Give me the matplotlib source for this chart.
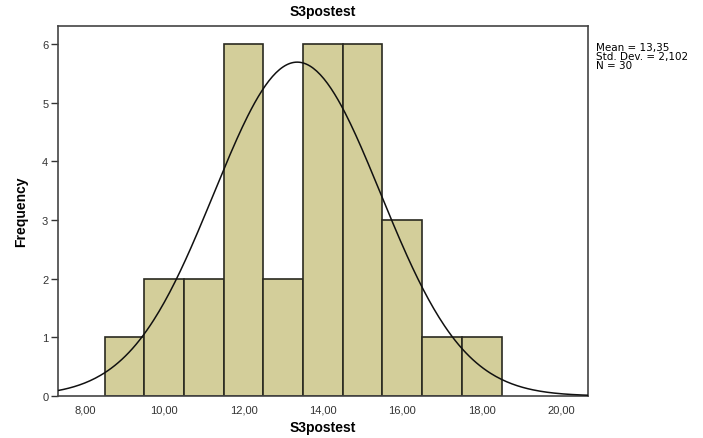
import matplotlib
matplotlib.use('Agg')
import matplotlib.pyplot as plt
import numpy as np

# histogram bins (width 1) and counts
bin_left = [8.5, 9.5, 10.5, 11.5, 12.5, 13.5, 14.5, 15.5, 16.5, 17.5]
counts = [1, 2, 2, 6, 2, 6, 6, 3, 1, 1]

mean, sd, n = 13.35, 2.102, 30
xticks = [8, 10, 12, 14, 16, 18, 20]
yticks = [0, 1, 2, 3, 4, 5, 6]

plt.rcParams['font.family'] = ['Liberation Sans', 'DejaVu Sans']

fig = plt.figure(figsize=(7.03, 4.39), dpi=100)
ax = fig.add_axes([0.0825, 0.0957, 0.7539, 0.8428])

ax.bar(bin_left, counts, width=1.0, align='edge', color='#d3ce9a',
       edgecolor='#2a2a20', linewidth=1.2, zorder=2)

# fitted normal curve scaled to counts (bin width 1)
xs = np.linspace(7.32, 20.68, 300)
ys = n / (sd * np.sqrt(2 * np.pi)) * np.exp(-0.5 * ((xs - mean) / sd) ** 2)
ax.plot(xs, ys, color='#111111', linewidth=1.1, zorder=3)

ax.set_xlim(7.32, 20.68)
ax.set_ylim(0, 6.31)
ax.set_xticks(xticks)
ax.set_xticklabels(['{:.2f}'.format(v).replace('.', ',') for v in xticks],
                   fontsize=8, color='#333333')
ax.set_yticks(yticks)
ax.set_yticklabels([str(v) for v in yticks], fontsize=8, color='#333333')
ax.tick_params(axis='x', length=0, pad=6)
ax.tick_params(axis='y', length=5, width=1, color='#333333', pad=2)

for s in ax.spines.values():
    s.set_color('#444444')
    s.set_linewidth(1.2)

ax.set_title('S3postest', fontsize=10, fontweight='bold', pad=8)
ax.set_xlabel('S3postest', fontsize=10, fontweight='bold', labelpad=4)
ax.set_ylabel('Frequency', fontsize=10, fontweight='bold', labelpad=10,
              fontstretch='condensed')

fig.text(0.848, 0.902, 'Mean = 13,35\nStd. Dev. = 2,102\nN = 30',
         fontsize=7.5, va='top', ha='left', linespacing=0.85,
         family=['DejaVu Sans'])

fig.savefig('out.png', dpi=100)
